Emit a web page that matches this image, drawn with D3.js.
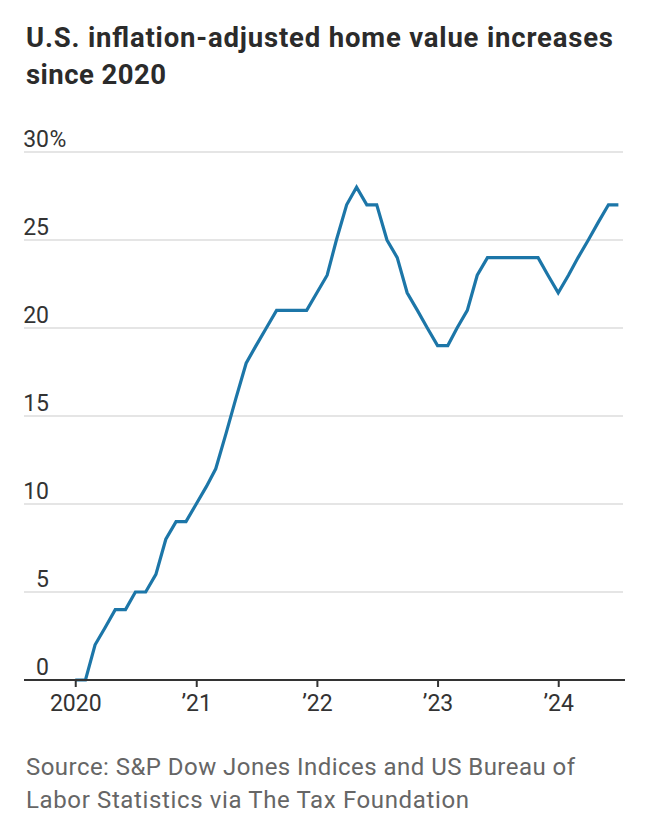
<!DOCTYPE html>
<html>
<head>
<meta charset="utf-8">
<script src="https://cdn.jsdelivr.net/npm/d3@7"></script>
<style>
  html, body { margin: 0; padding: 0; background: #fff; }
  svg { display: block; }
</style>
</head>
<body>
<svg id="chart" width="652" height="826"></svg>
<script>
// ---- Data (monthly, Jan 2020 – Jul 2024), percent increase ----
const startMonth = "2020-01";
const values2020 = [0, 0, 2, 3, 4, 4, 5, 5, 6, 8, 9, 9];
const values2021 = [10, 11, 12, 14, 16, 18, 19, 20, 21, 21, 21, 21];
const values2022 = [22, 23, 25, 27, 28, 27, 27, 25, 24, 22, 21, 20];
const values2023 = [19, 19, 20, 21, 23, 24, 24, 24, 24, 24, 24, 23];
const values2024 = [22, 23, 24, 25, 26, 27, 27];

const yTickValues = [0, 5, 10, 15, 20, 25, 30];
const yTickLabels = ["0", "5", "10", "15", "20", "25", "30"];
const xTickYears = [2020, 2021, 2022, 2023, 2024];
const xTickLabels = ["2020", "\u201921", "\u201922", "\u201923", "\u201924"];

const titleLines = ["U.S. inflation-adjusted home value increases", "since 2020"];
const sourceLines = ["Source: S&P Dow Jones Indices and US Bureau of", "Labor Statistics via The Tax Foundation"];

// ---- Build series ----
const allValues = [].concat(values2020, values2021, values2022, values2023, values2024);
const parseMonth = d3.timeParse("%Y-%m");
const start = parseMonth(startMonth);
const series = allValues.map((v, i) => ({ date: d3.timeMonth.offset(start, i), value: v }));

// ---- Layout ----
const svg = d3.select("#chart");
const plotLeft = 24, plotRight = 625;
const x = d3.scaleTime()
  .domain([new Date(2019, 6, 30), new Date(2024, 6, 21)])
  .range([plotLeft, plotRight]);
const y = d3.scaleLinear().domain([0, 30]).range([680, 152]);

const fontBody = "Roboto, 'Liberation Sans', Arial, sans-serif";

// Title
const title = svg.append("g");
titleLines.forEach((t, i) => {
  const el = title.append("text")
    .attr("x", 26).attr("y", 46.5 + i * 37.6)
    .attr("font-family", fontBody)
    .attr("font-weight", 700)
    .attr("font-size", 27.5)
    .attr("fill", "#2b2b2b")
    .text(t);
  if (i === 0) el.attr("textLength", 587).attr("lengthAdjust", "spacing");
  if (i === 1) el.attr("textLength", 140).attr("lengthAdjust", "spacing");
});

// Gridlines (non-zero)
svg.append("g")
  .selectAll("line")
  .data(yTickValues.filter(d => d !== 0))
  .join("line")
  .attr("x1", plotLeft).attr("x2", 623)
  .attr("y1", d => y(d)).attr("y2", d => y(d))
  .attr("stroke", "#dddddd")
  .attr("stroke-width", 1.5);

// Y labels
const yLab = svg.append("g")
  .attr("font-family", fontBody)
  .attr("font-size", 23)
  .attr("fill", "#333");
yLab.selectAll("text.num")
  .data(yTickValues)
  .join("text")
  .attr("class", "num")
  .attr("x", 49)
  .attr("y", d => y(d) - 5.5)
  .attr("text-anchor", "end")
  .text((d, i) => yTickLabels[i]);
yLab.append("text")
  .attr("x", 49.5)
  .attr("y", y(30) - 5.5)
  .text("%");

// Line
const line = d3.line()
  .x(d => x(d.date))
  .y(d => y(d.value));
svg.append("path")
  .datum(series)
  .attr("d", line)
  .attr("fill", "none")
  .attr("stroke", "#1c76a8")
  .attr("stroke-width", 3.2)
  .attr("stroke-linejoin", "miter")
  .attr("stroke-linecap", "butt");

// X axis
const xAxis = d3.axisBottom(x)
  .tickValues(xTickYears.map(yr => new Date(yr, 0, 1)))
  .tickFormat((d, i) => xTickLabels[i])
  .tickSize(7)
  .tickPadding(8);
const gx = svg.append("g")
  .attr("transform", `translate(0,${y(0)})`)
  .call(xAxis);
gx.select(".domain").remove();
gx.selectAll(".tick line").attr("stroke", "#333").attr("stroke-width", 2);
gx.selectAll(".tick text")
  .attr("font-family", fontBody)
  .attr("font-size", 23)
  .attr("fill", "#333");
gx.append("line")
  .attr("x1", plotLeft).attr("x2", plotRight)
  .attr("y1", 0).attr("y2", 0)
  .attr("stroke", "#333")
  .attr("stroke-width", 2);

// Source
const src = svg.append("g");
sourceLines.forEach((t, i) => {
  const el = src.append("text")
    .attr("x", 26).attr("y", 775 + i * 33.3)
    .attr("font-family", fontBody)
    .attr("font-size", 24)
    .attr("fill", "#666")
    .text(t);
  if (i === 0) el.attr("textLength", 549).attr("lengthAdjust", "spacing");
  if (i === 1) el.attr("textLength", 443).attr("lengthAdjust", "spacing");
});
</script>
</body>
</html>
